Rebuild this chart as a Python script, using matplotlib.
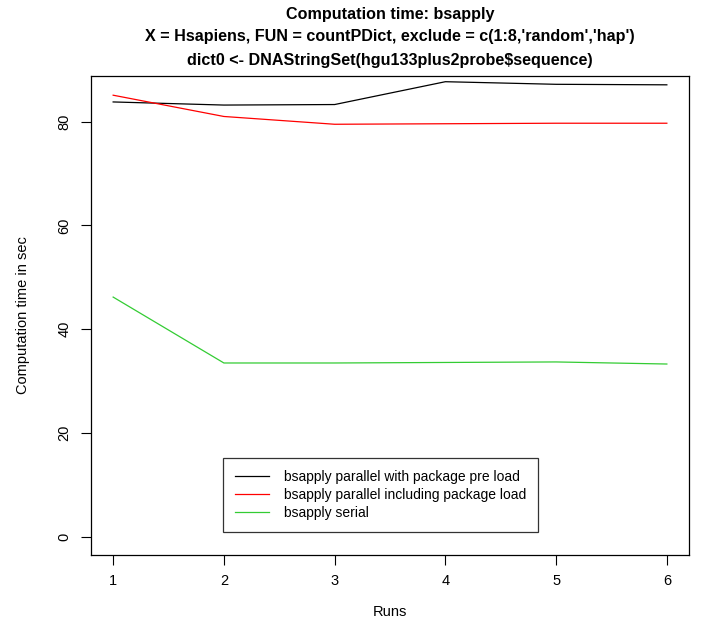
import matplotlib
matplotlib.use("Agg")
import matplotlib.pyplot as plt

plt.rcParams['font.family'] = ['Liberation Sans', 'DejaVu Sans']

runs = [1, 2, 3, 4, 5, 6]
preload = [83.8, 83.2, 83.3, 87.7, 87.2, 87.1]
with_load = [85.1, 81.0, 79.5, 79.6, 79.7, 79.7]
serial = [46.2, 33.5, 33.5, 33.6, 33.7, 33.3]
labels = ["bsapply parallel with package pre load",
          "bsapply parallel including package load",
          "bsapply serial"]
colors = ["black", "red", "#33cc33"]

fig = plt.figure(figsize=(7.02, 6.2), dpi=100)
ax = fig.add_axes([91/702, 1-555/620, 598/702, 479/620])

for ys, lab, c in zip([preload, with_load, serial], labels, colors):
    ax.plot(runs, ys, color=c, lw=0.9, label=lab)

ax.set_xlim(0.8, 6.2)
ax.set_ylim(-3.5, 88.8)
ax.set_xticks(runs)
ax.set_yticks([0, 20, 40, 60, 80])
ax.tick_params(direction='out', length=7, width=0.8, labelsize=10.5, pad=7)
for t in ax.get_yticklabels():
    t.set_rotation(90)
    t.set_va('center')
for s in ax.spines.values():
    s.set_linewidth(0.9)

ax.set_ylabel("Computation time in sec", fontsize=10.5, labelpad=20)
fig.text(0.5556, 1-612/620, "Runs", ha='center', va='center', fontsize=10.5)

fig.text(0.5556, 1-14/620, "Computation time: bsapply", ha='center', va='center',
         fontsize=11.6, fontweight='bold')
fig.text(0.5556, 1-37/620, "X = Hsapiens, FUN = countPDict, exclude = c(1:8,'random','hap')",
         ha='center', va='center', fontsize=11.6, fontweight='bold')
fig.text(0.5556, 1-60/620, "dict0 <- DNAStringSet(hgu133plus2probe$sequence)",
         ha='center', va='center', fontsize=11.6, fontweight='bold')

leg = ax.legend(loc='lower left', bbox_to_anchor=(223/702, 1-532/620),
                bbox_transform=fig.transFigure, fontsize=10, frameon=True,
                fancybox=False, edgecolor='black', handlelength=2.45,
                handletextpad=1.1, labelspacing=0.3, borderpad=0.85,
                borderaxespad=0)
leg.get_frame().set_linewidth(0.9)

fig.savefig("out.png", dpi=100)
